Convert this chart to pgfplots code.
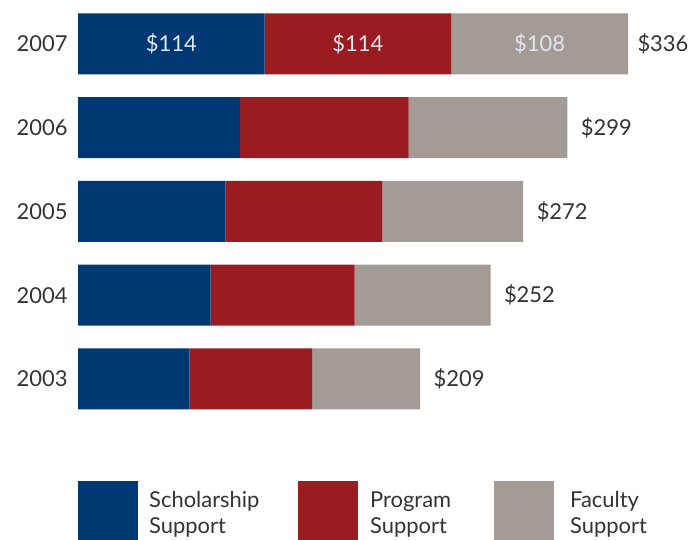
\documentclass[border=0pt]{standalone}
\usepackage{fontspec}
\setmainfont{Lato}
\usepackage{pgfplots}
\pgfplotsset{compat=1.18}
\definecolor{schol}{HTML}{003873}
\definecolor{prog}{HTML}{9A1C20}
\definecolor{fac}{HTML}{A39B95}
\definecolor{txt}{HTML}{333333}
\definecolor{inlbl}{HTML}{E2E6EE}

\begin{document}
\begin{tikzpicture}[font=\fontsize{22}{26}\selectfont]
\useasboundingbox (0,0) rectangle (695bp,-540bp);
% stacked bars
\begin{axis}[
    at={(78bp,-2.1bp)}, anchor=north west,
    scale only axis,
    width=550bp, height=418.75bp,
    xbar stacked,
    bar width=61bp,
    xmin=0, xmax=336,
    ymin=-0.5, ymax=4.5,
    axis line style={draw=none},
    major tick style={draw=none},
    xtick=\empty,
    ytick={0,1,2,3,4},
    yticklabels={2003,2004,2005,2006,2007},
    yticklabel style={text=txt, xshift=-7bp},
    clip=false,
    point meta=explicit symbolic,
    nodes near coords,
    every node near coord/.append style={text=inlbl, anchor=center},
]
\addplot[fill=schol, draw=none]
    coordinates {(68,0) [] (81,1) [] (90,2) [] (99,3) [] (114,4) [\$114]};
\addplot[fill=prog, draw=none]
    coordinates {(75,0) [] (88,1) [] (96,2) [] (103,3) [] (114,4) [\$114]};
\addplot[fill=fac, draw=none]
    coordinates {(66,0) [] (83,1) [] (86,2) [] (97,3) [] (108,4) [\$108]};
\end{axis}
% totals, same geometry
\begin{axis}[
    at={(78bp,-2.1bp)}, anchor=north west,
    scale only axis,
    width=550bp, height=418.75bp,
    xmin=0, xmax=336,
    ymin=-0.5, ymax=4.5,
    hide axis,
    clip=false,
    point meta=explicit symbolic,
    nodes near coords,
]
\addplot[only marks, mark=none,
    every node near coord/.style={text=txt, anchor=west, xshift=10bp}]
    coordinates {(209,0) [\$209] (252,1) [\$252] (272,2) [\$272] (299,3) [\$299]};
\addplot[only marks, mark=none,
    every node near coord/.style={text=txt, anchor=west, xshift=6bp}]
    coordinates {(336,4) [\$336]};
\end{axis}
% legend
\fill[schol] (78bp,-481bp) rectangle (138bp,-540bp);
\fill[prog] (298bp,-481bp) rectangle (358bp,-540bp);
\fill[fac] (494bp,-481bp) rectangle (554bp,-540bp);
\node[anchor=base west, inner sep=0, align=left, text=txt] at (149bp,-533bp) {Scholarship\\Support};
\node[anchor=base west, inner sep=0, align=left, text=txt] at (370bp,-533bp) {Program\\Support};
\node[anchor=base west, inner sep=0, align=left, text=txt] at (570bp,-533bp) {Faculty\\Support};
\end{tikzpicture}
\end{document}
